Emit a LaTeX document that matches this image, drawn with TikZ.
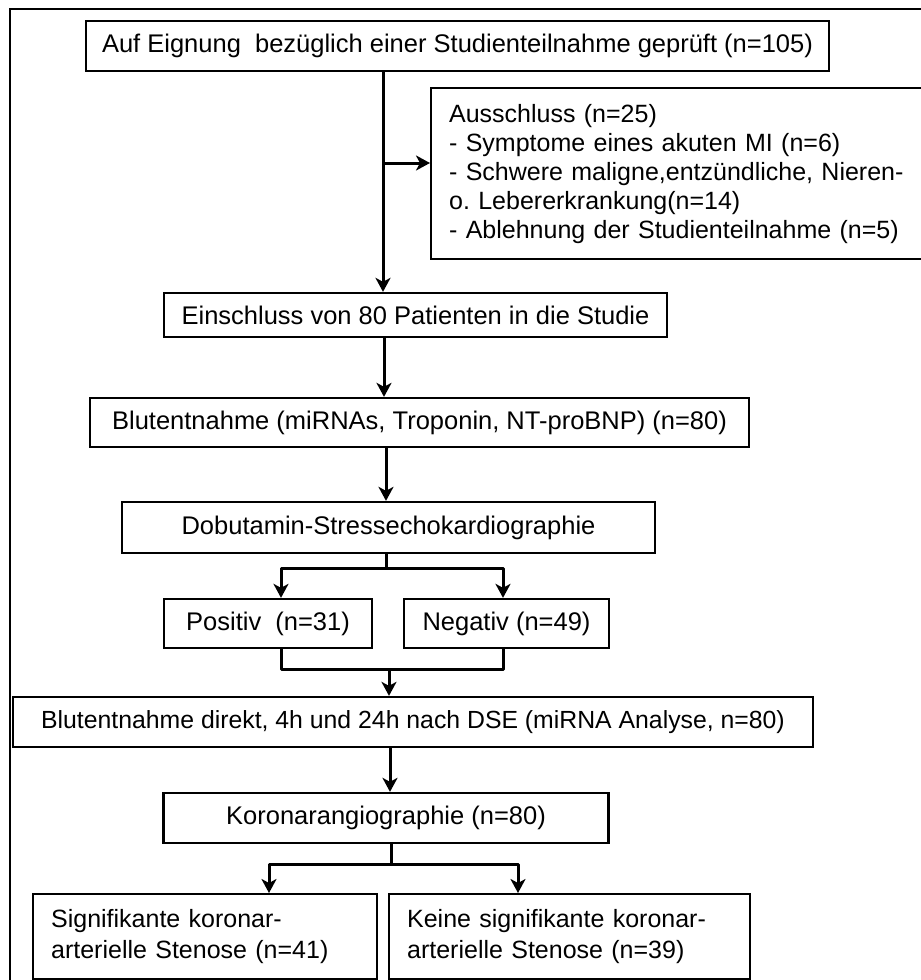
\documentclass[tikz,border=0pt]{standalone}
\usepackage{fontspec}
\setmainfont{Liberation Sans}
\usetikzlibrary{arrows.meta}

\tikzset{
  kasten/.style={draw, line width=2.3pt, inner sep=0pt, font=\fontsize{25.5}{29}\selectfont},
  pfeil/.style={line width=3pt, line join=round, -{Stealth[length=14pt,width=15pt,inset=4pt]}},
  linie/.style={line width=3pt, line join=round},
}

\begin{document}
\begin{tikzpicture}[x=1pt,y=-1pt]
  \useasboundingbox (0,0) rectangle (921,980);
  % Rahmen
  \draw[line width=2.4pt] (10,990) -- (10,9) -- (930,9);

  % Kaesten
  \node[kasten, minimum width=743pt, minimum height=50pt] (pruef) at (457.5,46)
    {Auf Eignung\ \ bezüglich einer Studienteilnahme geprüft (n=105)};
  \node[kasten, anchor=north west, text width=460pt, inner xsep=18pt,
        minimum height=171pt, align=left, font=\fontsize{25}{29}\selectfont] (aus) at (430,87)
    {Ausschluss (n=25)\\- Symptome eines akuten MI (n=6)\\- Schwere maligne,entzündliche, Nieren-\\o.\ Lebererkrankung(n=14)\\- Ablehnung der Studienteilnahme (n=5)};
  \node[kasten, minimum width=503pt, minimum height=44pt] (ein) at (415.5,315)
    {Einschluss von 80 Patienten in die Studie};
  \node[kasten, minimum width=659pt, minimum height=49pt] (blut1) at (419.5,422.5)
    {Blutentnahme (miRNAs, Troponin, NT-proBNP) (n=80)};
  \node[kasten, minimum width=533pt, minimum height=51pt] (dse) at (388.5,527.5)
    {Dobutamin-Stressechokardiographie};
  \node[kasten, minimum width=208pt, minimum height=49pt] (pos) at (268,623.5)
    {Positiv\ \ (n=31)};
  \node[kasten, minimum width=205pt, minimum height=49pt] (neg) at (506.5,623.5)
    {Negativ (n=49)};
  \node[kasten, minimum width=800pt, minimum height=50pt, font=\fontsize{24.8}{29}\selectfont] (blut2) at (413,722)
    {Blutentnahme direkt, 4h und 24h nach DSE (miRNA Analyse, n=80)};
  \node[kasten, minimum width=445pt, minimum height=50pt] (koro) at (386,818)
    {Koronarangiographie (n=80)};
  \node[kasten, anchor=north west, text width=308pt, inner xsep=18pt,
        minimum height=85pt, align=left, font=\fontsize{25}{31}\selectfont] (sig) at (32,893)
    {Signifikante koronar-\\arterielle Stenose (n=41)};
  \node[kasten, anchor=north west, text width=325pt, inner xsep=18pt,
        minimum height=85pt, align=left, font=\fontsize{25}{31}\selectfont] (keine) at (388,893)
    {Keine signifikante koronar-\\arterielle Stenose (n=39)};

  % Hauptlinie oben
  \coordinate (t1) at (383,0);
  \coordinate (abzw) at (383,163);
  \draw[pfeil] (pruef.south -| t1) -- (ein.north -| t1);
  \draw[pfeil] (abzw) -- (abzw -| aus.west);
  \coordinate (t2) at (384,0);
  \draw[pfeil] (ein.south -| t2) -- (blut1.north -| t2);
  \coordinate (t3) at (386,0);
  \draw[pfeil] (blut1.south -| t3) -- (dse.north -| t3);

  % Verzweigung DSE
  \coordinate (v1) at (386,568);
  \coordinate (vl) at (281,568);
  \coordinate (vr) at (503,568);
  \draw[linie] (dse.south -| v1) -- (v1);
  \draw[pfeil] (v1) -- (vl) -- (pos.north -| vl);
  \draw[pfeil] (v1) -- (vr) -- (neg.north -| vr);
  % Zusammenfuehrung
  \coordinate (z1) at (389,669);
  \draw[linie] (pos.south -| vl) |- (z1) -| (neg.south -| vr);
  \draw[pfeil] (z1) -- (blut2.north -| z1);
  \coordinate (t4) at (390,0);
  \draw[pfeil] (blut2.south -| t4) -- (koro.north -| t4);

  % Verzweigung Koronarangiographie
  \coordinate (v2) at (391,864);
  \coordinate (kl) at (269,864);
  \coordinate (kr) at (518,864);
  \draw[linie] (koro.south -| v2) -- (v2);
  \draw[pfeil] (v2) -- (kl) -- (sig.north -| kl);
  \draw[pfeil] (v2) -- (kr) -- (keine.north -| kr);
\end{tikzpicture}
\end{document}
